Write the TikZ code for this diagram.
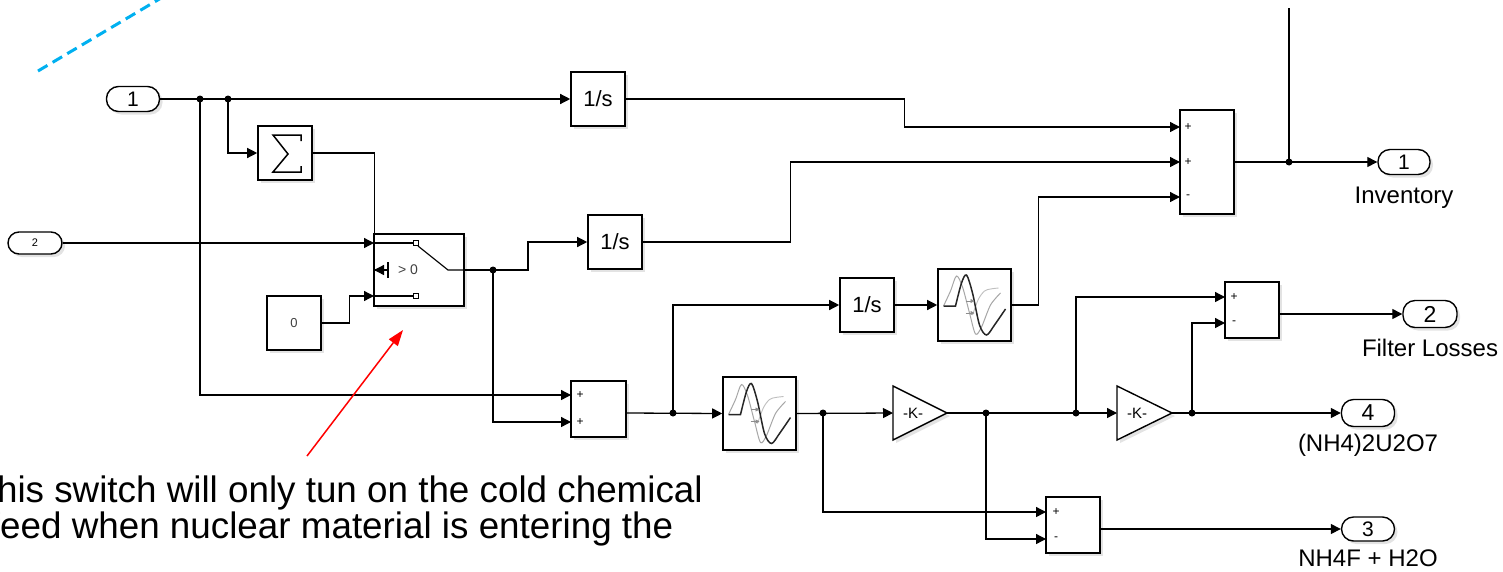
\documentclass[tikz,border=0pt]{standalone}
\usepackage{fontspec}
\setmainfont{Liberation Sans}
\usetikzlibrary{arrows.meta,shadows,calc}
\newcommand\fsz[1]{\fontsize{#1}{#1}\selectfont}
\definecolor{dashblue}{RGB}{0,176,240}
\newcommand\filticon[1]{%
\begin{scope}[shift={(#1)}]
 \draw[black!35, line width=1pt] plot[smooth] coordinates {(-31,1) (-24,-14) (-18,-29) (-12,-18) (-5,8) (1,29) (7,22) (16,0) (26,-12)};
 \draw[black!25, line width=0.9pt] plot[smooth] coordinates {(-2,10) (4,-6) (10,-14) (16,-16) (24,-17)};
 \draw[black!85, line width=1.5pt] (-31,1) -- (-19,1) -- plot[smooth] coordinates {(-19,1) (-13,-22) (-8,-30) (-2,-12) (5,20) (12,30) (20,20) (31,4)};
 \draw[black!45, line width=0.7pt, -{Triangle[length=4pt,width=4pt]}] (-9,-4) -- (0,-4);
 \draw[black!45, line width=0.7pt, -{Triangle[length=4pt,width=4pt]}] (-9,8) -- (0,8);
\end{scope}}
\begin{document}
\begin{tikzpicture}[x=1pt,y=-1pt,
  shd/.style={drop shadow={opacity=0.22,shadow xshift=3pt,shadow yshift=-3pt}},
  blk/.style={draw, line width=1.6pt, fill=white, inner sep=0pt, minimum width=54pt, minimum height=54pt, shd},
  port/.style={draw, line width=1.4pt, fill=white, rounded corners=12pt, inner sep=0pt, minimum width=53pt, minimum height=25pt, shd, font=\fsz{21}},
  wire/.style={line width=1.3pt},
  arr/.style={wire, -{Triangle[length=10pt,width=10pt]}},
  jd/.style={circle, fill, inner sep=0pt, minimum size=7pt},
  sgn/.style={font=\fsz{12}, inner sep=0pt},
  lbl/.style={font=\fsz{24}, inner sep=0pt, anchor=base},
  note/.style={font=\fsz{36.8}, inner sep=0pt, anchor=base west}]
\useasboundingbox (0,0) rectangle (1503,571);

% annotation dashed line
\coordinate (bl1) at (38,71);
\coordinate (bl2) at (178,-12);
\draw[dashblue, line width=3pt, dash pattern=on 11pt off 6pt] (bl1) -- (bl2);

% ports
\node[port] (in1) at (133,99) {1};
\node[port, minimum width=54pt, minimum height=22pt, rounded corners=11pt, font=\fsz{11}] (in2) at (35,243) {2};
\node[port, minimum width=52pt] (out1) at (1404,162) {1};
\node[port, minimum width=54pt, minimum height=27pt, font=\fsz{23}] (out2) at (1430,314) {2};
\node[port, minimum height=27pt, font=\fsz{23}] (out4) at (1368,413) {4};
\node[port, minimum height=24pt] (out3) at (1368,529) {3};
\node[lbl] (l1) at (1404,203) {Inventory};
\node[lbl] (l2) at (1430,356) {Filter Losses};
\node[lbl] (l4) at (1368,451) {(NH4)2U2O7};
\node[lbl] (l3) at (1368,566) {NH4F + H2O};

% blocks
\node[blk, font=\fsz{22}] (int1) at (598,99) {1/s};
\node[blk] (sig) at (285,153) {};
\draw[line width=1.5pt] (301,141) -- (301,135) -- (273,135) -- (288,154) -- (273,172) -- (301,172) -- (301,166);
\node[blk, minimum width=90pt, minimum height=72pt] (sw) at (419,270) {};
\node[blk, font=\fsz{13}, text=black!75] (c0) at (294,323) {0};
\node[blk, font=\fsz{22}] (int2) at (615,242) {1/s};
\node[blk, minimum width=55pt, minimum height=56pt] (sum2) at (598.5,409) {};
\node[blk, minimum width=73pt, minimum height=73pt] (filt1) at (759.5,413.5) {};
\filticon{759.5,413.5}
\node[blk, font=\fsz{22}] (int3) at (867,305) {1/s};
\node[blk, minimum width=73pt, minimum height=72pt] (filt2) at (974.5,305) {};
\filticon{974.5,305}
\node[blk, minimum height=104pt] (sum3in) at (1207,162) {};
\node[blk, minimum height=56pt] (sum4) at (1252,310) {};
\node[blk, minimum height=56pt] (sum5) at (1073,525) {};

% gains
\coordinate (g1in) at (893,413); \coordinate (g1out) at (947,413);
\coordinate (g2in) at (1117,413); \coordinate (g2out) at (1172,413);
\draw[line width=1.4pt, fill=white, shd] (893,386) -- (g1out) -- (893,440) -- cycle;
\node[font=\fsz{15}] (gain1) at (913,413) {-K-};
\draw[line width=1.4pt, fill=white, shd] (1117,386) -- (g2out) -- (1117,440) -- cycle;
\node[font=\fsz{15}] (gain2) at (1137,413) {-K-};

% switch internals
\coordinate (swa) at (374,243); \coordinate (swb) at (374,270); \coordinate (swc) at (374,296);
\draw[line width=1.1pt] (swa) -- (413,243);
\draw[line width=1pt] (413,240.5) rectangle (418,245.5);
\draw[line width=1.1pt] (418,246) -- (448,270) -- (sw.east);
\draw[line width=1.1pt] (swb) -- (388,270);
\draw[line width=1.1pt] (388,262) -- (388,278);
\node[font=\fsz{14}, text=black!75, inner sep=0pt] (gt) at (408,270) {> 0};
\draw[line width=1.1pt] (swc) -- (413,296);
\draw[line width=1pt] (413,293.5) rectangle (418,298.5);

% sum signs
\node[sgn] at (1188,127) {+};
\node[sgn] at (1188,162) {+};
\node[sgn] at (1188,197) {-};
\node[sgn] at (580,395) {+};
\node[sgn] at (580,422) {+};
\node[sgn] at (1234,297) {+};
\node[sgn] at (1234,323) {-};
\node[sgn] at (1056,512) {+};
\node[sgn] at (1056,539) {-};

% input port coordinates
\coordinate (s2b) at (571,395); \coordinate (s2a) at (571,422);
\coordinate (s3a) at (1180,127); \coordinate (s3b) at (1180,162); \coordinate (s3c) at (1180,197);
\coordinate (s4a) at (1225,297); \coordinate (s4b) at (1225,323);
\coordinate (s5a) at (1046,512); \coordinate (s5b) at (1046,539);
\coordinate (topend) at (1289,8);

% junctions
\node[jd] (j1) at (200,99) {};
\node[jd] (j2) at (228,99) {};
\node[jd] (j3) at (493,270) {};
\node[jd] (j4) at (673,413) {};
\node[jd] (j5) at (823,413) {};
\node[jd] (j6) at (986,413) {};
\node[jd] (j7) at (1076,413) {};
\node[jd] (j8) at (1192,413) {};
\node[jd] (j9) at (1289,162) {};

% wires
\draw[arr] (in1.east) -- (int1.west);
\draw[arr] (j2.center) |- (sig.west);
\draw[arr] (sig.east) -- ++(62,0) |- (swb);
\draw[arr] (in2.east) -- (swa);
\draw[arr] (c0.east) -- ++(28,0) |- (swc);
\draw[arr] (sw.east) -- (j3.center) -- ++(35,0) |- (int2.west);
\draw[arr] (j3.center) |- (s2a);
\draw[arr] (j1.center) |- (s2b);
\draw[arr] (int1.east) -- ++(279,0) |- (s3a);
\draw[arr] (int2.east) -- ++(148,0) |- (s3b);
\draw[arr] (filt2.east) -- ++(27,0) |- (s3c);
\draw[arr] (sum3in.east) -- (out1.west);
\draw[wire] (j9.center) -- (topend);
\draw[arr] (sum2.east |- j4) -- (filt1.west);
\draw[arr] (j4.center) |- (int3.west);
\draw[arr] (int3.east) -- (filt2.west);
\draw[arr] (filt1.east) -- (g1in);
\draw[arr] (j5.center) |- (s5a);
\draw[arr] (g1out) -- (g2in);
\draw[arr] (j6.center) |- (s5b);
\draw[arr] (j7.center) |- (s4a);
\draw[arr] (j8.center) |- (s4b);
\draw[arr] (g2out) -- (out4.west);
\draw[arr] (sum4.east |- out2) -- (out2.west);
\draw[arr] (sum5.east |- out3) -- (out3.west);

% annotation
\coordinate (ra) at (307,456);
\coordinate (rb) at (403,330);
\draw[red, line width=1.5pt, -{Triangle[length=16pt,width=11pt]}] (ra) -- (rb);
\node[note] (note1) at (-25.6,502) {This switch will only tun on the cold chemical};
\node[note] (note2) at (-10.2,538) {feed when nuclear material is entering the};
\end{tikzpicture}
\end{document}
